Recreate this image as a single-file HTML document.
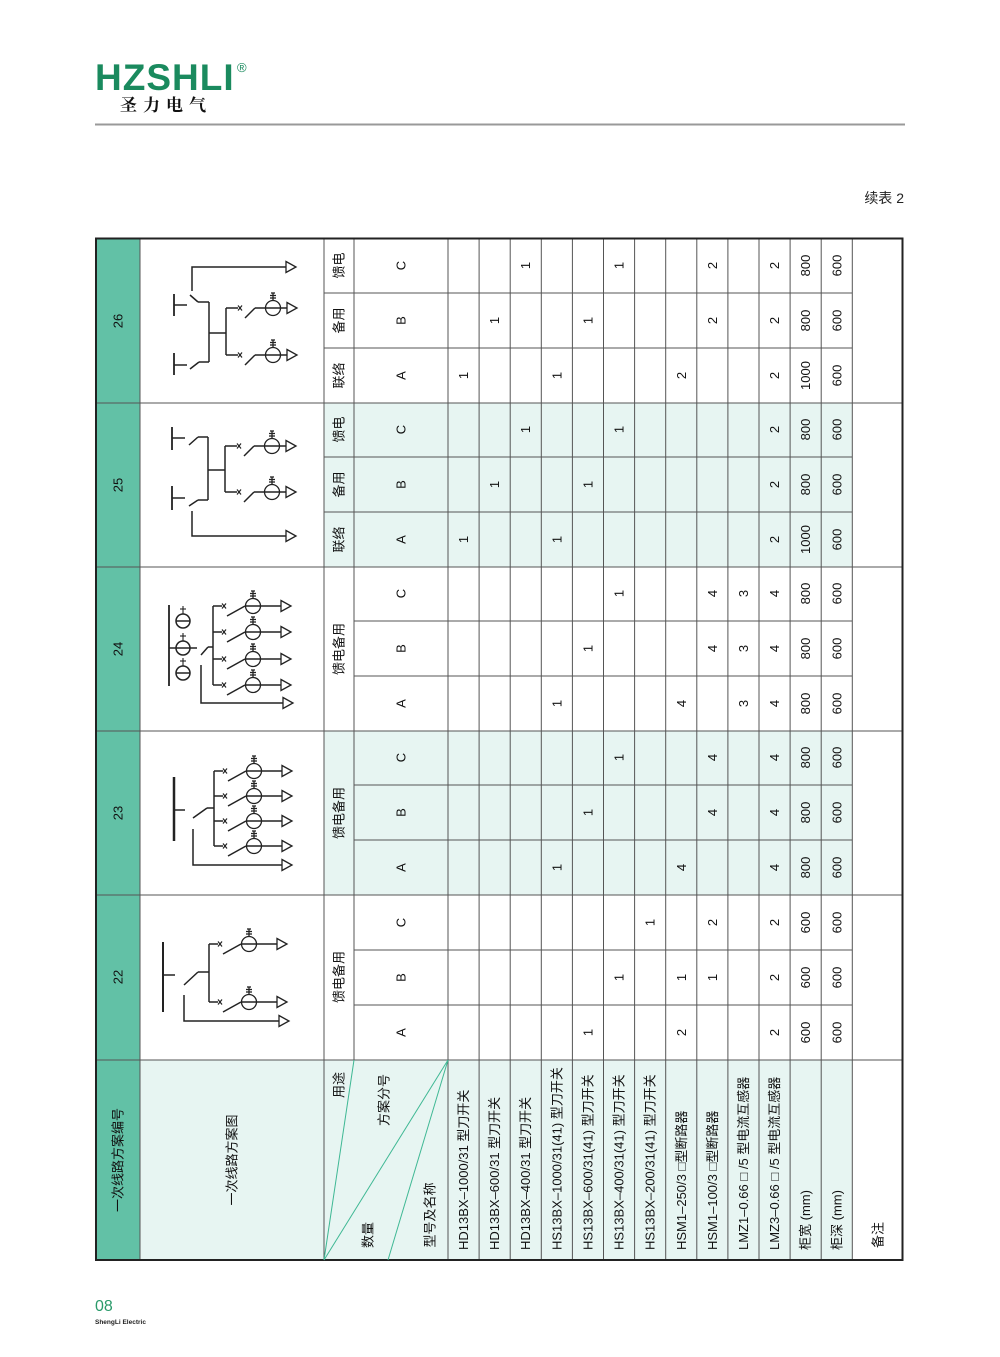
<!DOCTYPE html>
<html><head><meta charset="utf-8"><style>
html,body{margin:0;padding:0;background:#fff;}
body{width:1000px;height:1357px;position:relative;overflow:hidden;font-family:"Liberation Sans","Noto Sans CJK SC",sans-serif;}
</style></head><body>
<svg width="1000" height="1357" viewBox="0 0 1000 1357" xmlns="http://www.w3.org/2000/svg" style="position:absolute;left:0;top:0">
<defs>
<g id="ct" fill="none" stroke="#222" stroke-width="1.3"><circle r="7.5" cx="0" cy="0"/><line x1="0" y1="-7.5" x2="0" y2="-15"/><line x1="-3" y1="-10" x2="3" y2="-10"/><line x1="-3" y1="-12.5" x2="3" y2="-12.5"/><line x1="-2" y1="-15" x2="2" y2="-15"/></g>
<g id="arr"><polygon points="0,-5.5 10,0 0,5.5" fill="#fff" stroke="#222" stroke-width="1.3"/></g>
<g id="brA" fill="none" stroke="#222" stroke-width="1.5"><line x1="0" y1="0" x2="9" y2="0"/><line x1="9" y1="-2.5" x2="13" y2="2.5" stroke-width="1.2"/><line x1="9" y1="2.5" x2="13" y2="-2.5" stroke-width="1.2"/><line x1="14" y1="10" x2="32" y2="0"/><line x1="32" y1="0" x2="68" y2="0"/><use href="#ct" x="40" y="0"/><use href="#arr" x="68" y="0"/></g>
<g id="brB" fill="none" stroke="#222" stroke-width="1.5"><line x1="0" y1="0" x2="12" y2="0"/><line x1="12" y1="-2.5" x2="16" y2="2.5" stroke-width="1.2"/><line x1="12" y1="2.5" x2="16" y2="-2.5" stroke-width="1.2"/><line x1="19" y1="10" x2="29" y2="0"/><line x1="29" y1="0" x2="61" y2="0"/><use href="#ct" x="47" y="0"/><use href="#arr" x="61" y="0"/></g>
</defs>

<!-- header logo -->
<text x="95" y="90" font-family="Liberation Sans,sans-serif" font-weight="bold" font-size="37" fill="#1a8a5e" letter-spacing="1">HZSHLI</text>
<text x="237" y="72" font-size="13" fill="#1a8a5e">®</text>
<text x="120" y="111" font-family="Liberation Serif,'Noto Serif CJK SC',serif" font-weight="bold" font-size="17" fill="#111" letter-spacing="6">圣力电气</text>
<line x1="95" y1="124.5" x2="905" y2="124.5" stroke="#999" stroke-width="2"/>
<text x="904" y="203" text-anchor="end" font-size="14" fill="#222">续表 2</text>

<!-- backgrounds -->
<rect x="96" y="238" width="44" height="1022" fill="#62c1a6"/>
<rect x="140" y="1060" width="712" height="200" fill="#e7f5f2"/>
<rect x="324" y="731" width="528" height="164" fill="#e7f5f2"/>
<rect x="324" y="403" width="528" height="164" fill="#e7f5f2"/>

<!-- grid -->
<g stroke="#555" stroke-width="1">
<line x1="96" y1="403" x2="903" y2="403"/><line x1="96" y1="567" x2="903" y2="567"/><line x1="96" y1="731" x2="903" y2="731"/><line x1="96" y1="895" x2="903" y2="895"/><line x1="96" y1="1060" x2="903" y2="1060"/>
<line x1="140" y1="238" x2="140" y2="1260"/><line x1="324" y1="238" x2="324" y2="1260"/><line x1="354" y1="238" x2="354" y2="1060"/>
<line x1="448" y1="238" x2="448" y2="1260"/><line x1="479.1" y1="238" x2="479.1" y2="1260"/><line x1="510.2" y1="238" x2="510.2" y2="1260"/><line x1="541.3" y1="238" x2="541.3" y2="1260"/><line x1="572.4" y1="238" x2="572.4" y2="1260"/><line x1="603.5" y1="238" x2="603.5" y2="1260"/><line x1="634.6" y1="238" x2="634.6" y2="1260"/><line x1="665.7" y1="238" x2="665.7" y2="1260"/><line x1="696.8" y1="238" x2="696.8" y2="1260"/><line x1="727.9" y1="238" x2="727.9" y2="1260"/><line x1="759" y1="238" x2="759" y2="1260"/><line x1="790.1" y1="238" x2="790.1" y2="1260"/><line x1="821.2" y1="238" x2="821.2" y2="1260"/><line x1="852.3" y1="238" x2="852.3" y2="1260"/>
<!-- sub rows -->
<line x1="354" y1="1005" x2="852" y2="1005"/><line x1="354" y1="950" x2="852" y2="950"/>
<line x1="354" y1="840" x2="852" y2="840"/><line x1="354" y1="785" x2="852" y2="785"/>
<line x1="354" y1="676" x2="852" y2="676"/><line x1="354" y1="621" x2="852" y2="621"/>
<line x1="324" y1="512" x2="852" y2="512"/><line x1="324" y1="457" x2="852" y2="457"/>
<line x1="324" y1="348" x2="852" y2="348"/><line x1="324" y1="293" x2="852" y2="293"/>
</g>
<rect x="96" y="238.5" width="806.5" height="1021.5" fill="none" stroke="#222" stroke-width="2"/>
<!-- diagonals -->
<g stroke="#3fb894" stroke-width="1"><line x1="354" y1="1060" x2="324" y2="1260"/><line x1="448" y1="1060" x2="324" y2="1260"/><line x1="448" y1="1060" x2="388" y2="1260"/></g>

<!-- rotated header texts -->
<g font-size="13" fill="#111" text-anchor="middle" dominant-baseline="central">
<text transform="translate(118,1160) rotate(-90)">一次线路方案编号</text>
<text transform="translate(232,1160) rotate(-90)">一次线路方案图</text>
<text transform="translate(118,977) rotate(-90)">22</text>
<text transform="translate(118,813) rotate(-90)">23</text>
<text transform="translate(118,649) rotate(-90)">24</text>
<text transform="translate(118,485) rotate(-90)">25</text>
<text transform="translate(118,321) rotate(-90)">26</text>
<text transform="translate(339,1085) rotate(-90)">用途</text>
<text transform="translate(384,1100) rotate(-90)">方案分号</text>
<text transform="translate(368,1235) rotate(-90)">数量</text>
<text transform="translate(430,1215) rotate(-90)">型号及名称</text>
<text transform="translate(878,1248) rotate(-90)" text-anchor="start">备注</text>
<text transform="translate(339,977) rotate(-90)">馈电备用</text>
<text transform="translate(339,813) rotate(-90)">馈电备用</text>
<text transform="translate(339,649) rotate(-90)">馈电备用</text>
<text transform="translate(339,539.5) rotate(-90)">联络</text><text transform="translate(339,484.5) rotate(-90)">备用</text><text transform="translate(339,429.5) rotate(-90)">馈电</text>
<text transform="translate(339,375.5) rotate(-90)">联络</text><text transform="translate(339,320.5) rotate(-90)">备用</text><text transform="translate(339,265.5) rotate(-90)">馈电</text>
</g>
<!-- row labels -->
<g font-size="13" fill="#111" text-anchor="start" dominant-baseline="central">
<text transform="translate(463.5,1250) rotate(-90)">HD13BX–1000/31 型刀开关</text>
<text transform="translate(494.6,1250) rotate(-90)">HD13BX–600/31 型刀开关</text>
<text transform="translate(525.7,1250) rotate(-90)">HD13BX–400/31 型刀开关</text>
<text transform="translate(556.8,1250) rotate(-90)">HS13BX–1000/31(41) 型刀开关</text>
<text transform="translate(588,1250) rotate(-90)">HS13BX–600/31(41) 型刀开关</text>
<text transform="translate(619,1250) rotate(-90)">HS13BX–400/31(41) 型刀开关</text>
<text transform="translate(650,1250) rotate(-90)">HS13BX–200/31(41) 型刀开关</text>
<text transform="translate(681.3,1250) rotate(-90)">HSM1–250/3 □型断路器</text>
<text transform="translate(712.4,1250) rotate(-90)">HSM1–100/3 □型断路器</text>
<text transform="translate(743.5,1250) rotate(-90)">LMZ1–0.66 □ /5 型电流互感器</text>
<text transform="translate(774.6,1250) rotate(-90)">LMZ3–0.66 □ /5 型电流互感器</text>
<text transform="translate(805.7,1250) rotate(-90)">柜宽 (mm)</text>
<text transform="translate(836.8,1250) rotate(-90)">柜深 (mm)</text>
</g>
<!-- data -->
<g font-size="13" fill="#111" text-anchor="middle" dominant-baseline="central">
<text transform="translate(401,1032.5) rotate(-90)">A</text><text transform="translate(401,977.5) rotate(-90)">B</text><text transform="translate(401,922.5) rotate(-90)">C</text>
<text transform="translate(401,867.5) rotate(-90)">A</text><text transform="translate(401,812.5) rotate(-90)">B</text><text transform="translate(401,757.5) rotate(-90)">C</text>
<text transform="translate(401,703.5) rotate(-90)">A</text><text transform="translate(401,648.5) rotate(-90)">B</text><text transform="translate(401,593.5) rotate(-90)">C</text>
<text transform="translate(401,539.5) rotate(-90)">A</text><text transform="translate(401,484.5) rotate(-90)">B</text><text transform="translate(401,429.5) rotate(-90)">C</text>
<text transform="translate(401,375.5) rotate(-90)">A</text><text transform="translate(401,320.5) rotate(-90)">B</text><text transform="translate(401,265.5) rotate(-90)">C</text>
<!-- 22 -->
<text transform="translate(588,1032.5) rotate(-90)">1</text><text transform="translate(681.3,1032.5) rotate(-90)">2</text><text transform="translate(774.6,1032.5) rotate(-90)">2</text><text transform="translate(805.7,1032.5) rotate(-90)">600</text><text transform="translate(836.8,1032.5) rotate(-90)">600</text>
<text transform="translate(619,977.5) rotate(-90)">1</text><text transform="translate(681.3,977.5) rotate(-90)">1</text><text transform="translate(712.4,977.5) rotate(-90)">1</text><text transform="translate(774.6,977.5) rotate(-90)">2</text><text transform="translate(805.7,977.5) rotate(-90)">600</text><text transform="translate(836.8,977.5) rotate(-90)">600</text>
<text transform="translate(650,922.5) rotate(-90)">1</text><text transform="translate(712.4,922.5) rotate(-90)">2</text><text transform="translate(774.6,922.5) rotate(-90)">2</text><text transform="translate(805.7,922.5) rotate(-90)">600</text><text transform="translate(836.8,922.5) rotate(-90)">600</text>
<!-- 23 -->
<text transform="translate(556.8,867.5) rotate(-90)">1</text><text transform="translate(681.3,867.5) rotate(-90)">4</text><text transform="translate(774.6,867.5) rotate(-90)">4</text><text transform="translate(805.7,867.5) rotate(-90)">800</text><text transform="translate(836.8,867.5) rotate(-90)">600</text>
<text transform="translate(588,812.5) rotate(-90)">1</text><text transform="translate(712.4,812.5) rotate(-90)">4</text><text transform="translate(774.6,812.5) rotate(-90)">4</text><text transform="translate(805.7,812.5) rotate(-90)">800</text><text transform="translate(836.8,812.5) rotate(-90)">600</text>
<text transform="translate(619,757.5) rotate(-90)">1</text><text transform="translate(712.4,757.5) rotate(-90)">4</text><text transform="translate(774.6,757.5) rotate(-90)">4</text><text transform="translate(805.7,757.5) rotate(-90)">800</text><text transform="translate(836.8,757.5) rotate(-90)">600</text>
<!-- 24 -->
<text transform="translate(556.8,703.5) rotate(-90)">1</text><text transform="translate(681.3,703.5) rotate(-90)">4</text><text transform="translate(743.5,703.5) rotate(-90)">3</text><text transform="translate(774.6,703.5) rotate(-90)">4</text><text transform="translate(805.7,703.5) rotate(-90)">800</text><text transform="translate(836.8,703.5) rotate(-90)">600</text>
<text transform="translate(588,648.5) rotate(-90)">1</text><text transform="translate(712.4,648.5) rotate(-90)">4</text><text transform="translate(743.5,648.5) rotate(-90)">3</text><text transform="translate(774.6,648.5) rotate(-90)">4</text><text transform="translate(805.7,648.5) rotate(-90)">800</text><text transform="translate(836.8,648.5) rotate(-90)">600</text>
<text transform="translate(619,593.5) rotate(-90)">1</text><text transform="translate(712.4,593.5) rotate(-90)">4</text><text transform="translate(743.5,593.5) rotate(-90)">3</text><text transform="translate(774.6,593.5) rotate(-90)">4</text><text transform="translate(805.7,593.5) rotate(-90)">800</text><text transform="translate(836.8,593.5) rotate(-90)">600</text>
<!-- 25 -->
<text transform="translate(463.5,539.5) rotate(-90)">1</text><text transform="translate(556.8,539.5) rotate(-90)">1</text><text transform="translate(774.6,539.5) rotate(-90)">2</text><text transform="translate(805.7,539.5) rotate(-90)">1000</text><text transform="translate(836.8,539.5) rotate(-90)">600</text>
<text transform="translate(494.6,484.5) rotate(-90)">1</text><text transform="translate(588,484.5) rotate(-90)">1</text><text transform="translate(774.6,484.5) rotate(-90)">2</text><text transform="translate(805.7,484.5) rotate(-90)">800</text><text transform="translate(836.8,484.5) rotate(-90)">600</text>
<text transform="translate(525.7,429.5) rotate(-90)">1</text><text transform="translate(619,429.5) rotate(-90)">1</text><text transform="translate(774.6,429.5) rotate(-90)">2</text><text transform="translate(805.7,429.5) rotate(-90)">800</text><text transform="translate(836.8,429.5) rotate(-90)">600</text>
<!-- 26 -->
<text transform="translate(463.5,375.5) rotate(-90)">1</text><text transform="translate(556.8,375.5) rotate(-90)">1</text><text transform="translate(681.3,375.5) rotate(-90)">2</text><text transform="translate(774.6,375.5) rotate(-90)">2</text><text transform="translate(805.7,375.5) rotate(-90)">1000</text><text transform="translate(836.8,375.5) rotate(-90)">600</text>
<text transform="translate(494.6,320.5) rotate(-90)">1</text><text transform="translate(588,320.5) rotate(-90)">1</text><text transform="translate(712.4,320.5) rotate(-90)">2</text><text transform="translate(774.6,320.5) rotate(-90)">2</text><text transform="translate(805.7,320.5) rotate(-90)">800</text><text transform="translate(836.8,320.5) rotate(-90)">600</text>
<text transform="translate(525.7,265.5) rotate(-90)">1</text><text transform="translate(619,265.5) rotate(-90)">1</text><text transform="translate(712.4,265.5) rotate(-90)">2</text><text transform="translate(774.6,265.5) rotate(-90)">2</text><text transform="translate(805.7,265.5) rotate(-90)">800</text><text transform="translate(836.8,265.5) rotate(-90)">600</text>
</g>

<!-- diagrams -->
<g fill="none" stroke="#222" stroke-width="1.5">
<!-- 22 -->
<line x1="163" y1="942" x2="163" y2="1012" stroke-width="2"/><line x1="163" y1="975" x2="175" y2="975"/>
<line x1="184" y1="985" x2="198" y2="972"/><line x1="198" y1="972" x2="209" y2="972"/>
<line x1="209" y1="944" x2="209" y2="1002"/>
<use href="#brA" x="209" y="944"/><use href="#brA" x="209" y="1002"/>
<polyline points="184,995 184,1021 279,1021"/><use href="#arr" x="279" y="1021"/>
<!-- 23 -->
<line x1="174" y1="777" x2="174" y2="841" stroke-width="2.5"/><line x1="174" y1="810" x2="185" y2="810"/>
<line x1="193" y1="818" x2="207" y2="808"/><line x1="207" y1="808" x2="214" y2="808"/>
<line x1="214" y1="771" x2="214" y2="846"/>
<use href="#brA" x="214" y="771"/><use href="#brA" x="214" y="796"/><use href="#brA" x="214" y="821"/><use href="#brA" x="214" y="846"/>
<polyline points="193,829 193,865 282,865"/><use href="#arr" x="282" y="865"/>
<!-- 24 -->
<line x1="169" y1="605" x2="169" y2="686" stroke-width="1.8"/>
<line x1="169" y1="648" x2="197" y2="648"/>
<circle cx="183" cy="621" r="7"/><line x1="176" y1="621" x2="190" y2="621"/>
<circle cx="183" cy="648" r="7"/>
<circle cx="183" cy="673" r="7"/><line x1="176" y1="673" x2="190" y2="673"/>
<g stroke-width="1.1"><line x1="183" y1="614" x2="183" y2="606"/><line x1="180" y1="609" x2="186" y2="609"/><line x1="183" y1="641" x2="183" y2="633"/><line x1="180" y1="636" x2="186" y2="636"/><line x1="183" y1="666" x2="183" y2="658"/><line x1="180" y1="661" x2="186" y2="661"/></g>
<line x1="201" y1="655" x2="208" y2="647"/><line x1="208" y1="647" x2="213" y2="647"/>
<line x1="213" y1="606" x2="213" y2="685"/>
<use href="#brA" x="213" y="606"/><use href="#brA" x="213" y="632"/><use href="#brA" x="213" y="659"/><use href="#brA" x="213" y="685"/>
<polyline points="201,665 201,703 283,703"/><use href="#arr" x="283" y="703"/>
<!-- 25 -->
<line x1="172" y1="427" x2="172" y2="450" stroke-width="1.8"/><line x1="172" y1="438" x2="185" y2="438"/>
<line x1="189" y1="445" x2="198" y2="437"/><line x1="198" y1="437" x2="208" y2="437"/>
<line x1="172" y1="486" x2="172" y2="510" stroke-width="1.8"/><line x1="172" y1="498" x2="185" y2="498"/>
<line x1="189" y1="506" x2="198" y2="500"/><line x1="198" y1="500" x2="208" y2="500"/>
<line x1="208" y1="437" x2="208" y2="500"/><line x1="208" y1="470" x2="225" y2="470"/>
<line x1="225" y1="446" x2="225" y2="492"/>
<use href="#brB" x="225" y="446"/><use href="#brB" x="225" y="492"/>
<polyline points="192,511 192,536 286,536"/><use href="#arr" x="286" y="536"/>
<!-- 26 -->
<polyline points="192,291 192,267 286,267"/><use href="#arr" x="286" y="267"/>
<line x1="174" y1="294" x2="174" y2="316" stroke-width="1.8"/><line x1="174" y1="305" x2="187" y2="305"/>
<line x1="190" y1="295" x2="198" y2="302"/><line x1="198" y1="302" x2="209" y2="302"/>
<line x1="174" y1="353" x2="174" y2="375" stroke-width="1.8"/><line x1="174" y1="365" x2="187" y2="365"/>
<line x1="190" y1="369" x2="199" y2="362"/><line x1="199" y1="362" x2="209" y2="362"/>
<line x1="209" y1="302" x2="209" y2="362"/><line x1="209" y1="333" x2="226" y2="333"/>
<line x1="226" y1="308" x2="226" y2="355"/>
<use href="#brB" x="226" y="308"/><use href="#brB" x="226" y="355"/>
</g>

<!-- footer -->
<text x="95" y="1311" font-size="16" fill="#2a9a6a">08</text>
<text x="95" y="1324" font-size="6.5" font-weight="bold" fill="#222">ShengLi Electric</text>
</svg>
</body></html>
